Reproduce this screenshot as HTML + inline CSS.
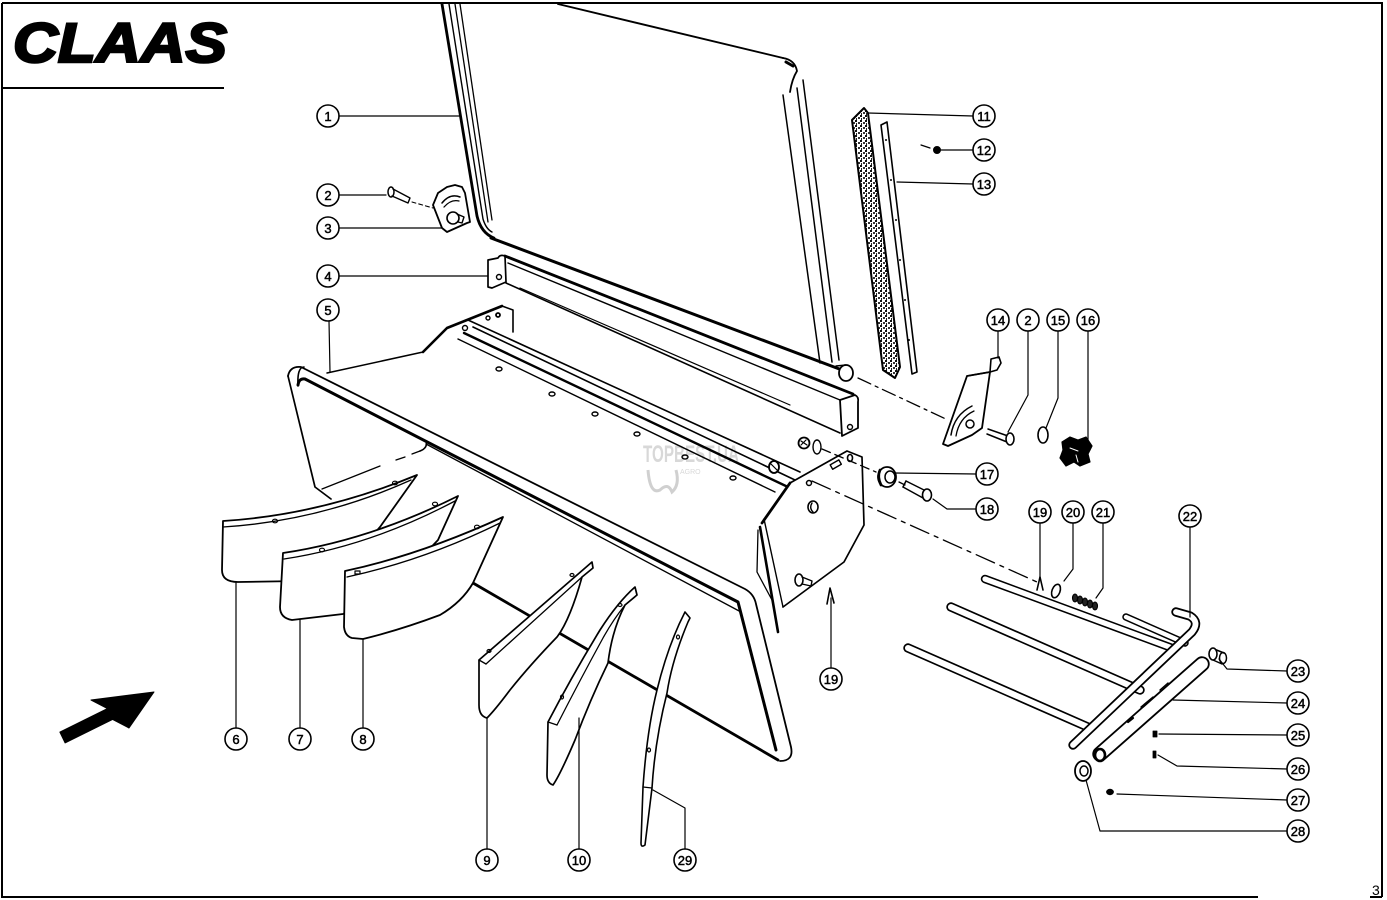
<!DOCTYPE html>
<html><head><meta charset="utf-8">
<style>
html,body{margin:0;padding:0;background:#fff;}
svg{display:block;}
text{font-family:"Liberation Sans",sans-serif;}
</style></head><body>
<svg xmlns="http://www.w3.org/2000/svg" width="1387" height="900" viewBox="0 0 1387 900">
<defs>
<pattern id="perf" width="5" height="5" patternUnits="userSpaceOnUse">
 <rect width="5" height="5" fill="#fff"/>
 <rect x="0" y="0" width="2" height="2" fill="#111"/>
 <rect x="3" y="2" width="2" height="2" fill="#333"/>
 <rect x="1" y="3" width="1" height="2" fill="#222"/>
</pattern>
</defs>
<rect width="1387" height="900" fill="#fff"/>

<!-- frame -->
<g fill="none" stroke="#000" stroke-width="2">
 <path d="M2,3 H1382 V897"/>
 <path d="M2,3 V897 H1258"/>
 <path d="M1370,897 H1382"/>
 <path d="M2,88 H224"/>
</g>

<!-- logo -->
<text x="13" y="62" font-size="56" font-weight="bold" font-style="italic" textLength="214" lengthAdjust="spacingAndGlyphs" fill="#000" stroke="#000" stroke-width="2.5">CLAAS</text>

<!-- watermark -->
<g fill="#cfcfcf" opacity="0.8">
 <text x="643" y="462" font-size="24" font-weight="bold" textLength="96" lengthAdjust="spacingAndGlyphs">TOPBEST.UA</text>
 <text x="680" y="474" font-size="7">AGRO</text>
</g>
<path d="M648,470 Q650,495 660,490 Q668,482 672,492 Q680,485 676,470" fill="none" stroke="#d0d0d0" stroke-width="3"/>

<g fill="none" stroke="#000" stroke-linecap="round" stroke-linejoin="round">

<!-- ===== Part 1 panel ===== -->
<path d="M442,4 L477,216 Q481,233 494,238" stroke-width="2.8"/>
<path d="M449,4 L483,219 Q486,229 492,232" stroke-width="1.4"/>
<path d="M455,4 L488,222" stroke-width="1.3"/>
<path d="M460,4 L492,220" stroke-width="1.3"/>
<path d="M558,4 L783,58" stroke-width="1.9"/>
<path d="M783,58 Q795,60 797,71 Q792,79 790,92" stroke-width="1.8"/>
<path d="M786,62 L793,66" stroke-width="3"/>
<path d="M783,95 L820,363" stroke-width="1.5"/>
<path d="M797,88 L832,362" stroke-width="1.5"/>
<path d="M803,80 L839,360" stroke-width="1.5"/>
<path d="M491,238 L842,370" stroke-width="3"/>
<ellipse cx="846" cy="373" rx="7" ry="8" fill="#fff" stroke-width="1.8"/>
<path d="M836,366 L846,365" stroke-width="1.4"/>

<!-- ===== Part 4 rail ===== -->
<path d="M488,260 L498,258 Q500,254 505,256 L506,282 L492,288 L488,287 Z" fill="#fff" stroke-width="1.7"/>
<circle cx="499" cy="277" r="2.5" stroke-width="1.4"/>
<path d="M505,256 L853,394" stroke-width="2.8"/>
<path d="M508,263 L840,400" stroke-width="1.4"/>
<path d="M506,283 L840,433" stroke-width="1.6"/>
<path d="M520,288 L790,405" stroke-width="1.2"/>
<path d="M840,400 L855,395 Q859,397 858,402 L858,428 L842,436 Z" fill="#fff" stroke-width="1.8"/>
<circle cx="850" cy="427" r="2.5" stroke-width="1.4"/>

<!-- ===== Part 3 bracket and bolt 2 ===== -->
<path d="M433,205 L438,193 L447,187 L455,185 L462,187 L465,193 L470,222 L467,223 L447,232 L442,228 Z" fill="#fff" stroke-width="1.8"/>
<path d="M442,203 Q450,193 460,197" stroke-width="1.5"/>
<path d="M444,207 Q451,199 459,201" stroke-width="1.3"/>
<circle cx="453" cy="218" r="6" fill="#fff" stroke-width="1.6"/>
<path d="M457,214 L464,217 L462,223 L458,222" stroke-width="1.4"/>
<ellipse cx="391" cy="192" rx="3" ry="5" fill="#fff" stroke-width="1.5"/>
<path d="M393,189 L410,198 M392,196 L408,203 M410,198 L408,203" stroke-width="1.4"/>
<path d="M412,202 L433,208" stroke-width="1.1" stroke-dasharray="4,3"/>

<!-- ===== Hopper part 5 ===== -->
<path d="M327,373 L423,352" stroke-width="1.5"/>
<path d="M423,352 L447,328 L502,306" stroke-width="2.6"/>
<path d="M502,306 L513,310 L513,332" stroke-width="1.6"/>
<circle cx="465" cy="328" r="2.5" stroke-width="1.4"/>
<circle cx="488" cy="318" r="2" stroke-width="1.4"/>
<circle cx="498" cy="315" r="2" stroke-width="1.8"/>
<path d="M468,320 L800,472" stroke-width="1.6"/>
<path d="M473,327 L795,480" stroke-width="1.6"/>
<path d="M464,333 L788,487" stroke-width="2.4"/>
<path d="M458,339 L775,492" stroke-width="1.4"/>
<ellipse cx="774" cy="467" rx="5" ry="6" fill="#fff" stroke-width="1.8"/>
<path d="M771,464 L777,470" stroke-width="1.2"/>
<g stroke-width="1.4">
<ellipse cx="499" cy="369" rx="3" ry="2"/>
<ellipse cx="552" cy="394" rx="3" ry="2"/>
<ellipse cx="595" cy="414" rx="3" ry="2"/>
<ellipse cx="637" cy="434" rx="3" ry="2"/>
<ellipse cx="685" cy="457" rx="3" ry="2"/>
<ellipse cx="733" cy="478" rx="3" ry="2"/>
</g>
<!-- right end plate -->
<path d="M762,523 L790,483 L847,451 L862,457 L864,525 L844,562 L783,607 L778,632 L760,575 Z" fill="#fff" stroke="none"/>
<path d="M790,483 L847,451 L862,457 L864,525 L844,562 L783,607" stroke-width="1.7"/>
<path d="M762,523 L790,483" stroke-width="2.8"/>
<path d="M760,527 L778,632" stroke-width="2.6"/>
<path d="M764,519 L783,607" stroke-width="1.4"/>
<path d="M758,530 L757,572 L772,600" stroke-width="1.3"/>
<rect x="831" y="462" width="10" height="5" transform="rotate(-30 836 465)" stroke-width="1.4"/>
<ellipse cx="850" cy="458" rx="2.5" ry="3.5" stroke-width="1.6"/>
<circle cx="809" cy="483" r="2.5" stroke-width="1.5"/>
<ellipse cx="813" cy="507" rx="5" ry="6" stroke-width="1.6"/>
<path d="M812,503 Q809,508 813,512" stroke-width="1.4"/>
<ellipse cx="799" cy="580" rx="4" ry="6" fill="#fff" stroke-width="1.6"/>
<path d="M802,577 L812,581 L811,586 L802,584" stroke-width="1.4"/>
<circle cx="804" cy="443" r="5.5" fill="#fff" stroke-width="1.8"/>
<path d="M801,441 L807,445 M801,445 L806,440" stroke-width="1.2"/>
<ellipse cx="817" cy="447" rx="4" ry="7" stroke-width="1.4"/>
<!-- front tube -->
<path d="M298,386 Q297,367 304,367" stroke-width="1.6"/>
<path d="M288,376 Q290,366 301,367 L745,589 Q754,594 756,604 L791,747 Q794,761 780,761" stroke-width="1.8"/>
<path d="M298,385 Q299,378 305,379 L738,602 L776,750" stroke-width="3"/>
<path d="M426,444 L741,612" stroke-width="1.3"/>
<!-- left plate -->
<path d="M288,376 L315,487 L331,499" stroke-width="1.7"/>
<path d="M322,489 L380,466" stroke-width="1.3"/>
<path d="M396,460 L405,457 M412,454 L420,451" stroke-width="1.3"/>
<path d="M420,451 Q428,448 426,441" stroke-width="1.6"/>
<path d="M473,583 L778,760" stroke-width="2.8"/>

<!-- ===== Flaps 6,7,8 ===== -->
<path d="M223,521 Q320,515 417,475 L380,527 L360,550 L300,581 L238,582 Q222,582 222,570 Z" fill="#fff" stroke-width="1.8"/>
<path d="M223,527 Q320,521 411,480" stroke-width="1.3"/>
<ellipse cx="275" cy="521" rx="2.5" ry="1.8" stroke-width="1.2"/>
<ellipse cx="395" cy="483" rx="2.5" ry="1.8" stroke-width="1.2"/>

<path d="M283,553 Q370,540 458,496 L438,540 L400,580 L343,614 L292,620 Q280,618 280,607 Z" fill="#fff" stroke-width="1.8"/>
<path d="M284,559 Q370,546 455,501" stroke-width="1.3"/>
<ellipse cx="322" cy="550" rx="2.5" ry="1.8" stroke-width="1.2"/>
<ellipse cx="435" cy="504" rx="2.5" ry="1.8" stroke-width="1.2"/>

<path d="M345,571 Q420,555 503,517 L473,583 Q462,602 440,615 Q400,630 363,639 L352,638 Q345,636 344,627 Z" fill="#fff" stroke-width="1.8"/>
<path d="M347,577 Q425,560 500,523" stroke-width="1.3"/>
<rect x="355" y="571" width="5" height="3" stroke-width="1.2"/>
<ellipse cx="477" cy="527" rx="2.5" ry="1.8" stroke-width="1.2"/>

<!-- ===== Fins 9,10,29 ===== -->
<path d="M479,660 L592,562 L593,568 L582,577 Q570,620 557,637 Q530,665 510,690 Q495,710 487,718 Q479,716 479,705 Z" fill="#fff" stroke-width="1.7"/>
<path d="M486,664 L582,577" stroke-width="1.3"/>
<path d="M479,660 L486,664" stroke-width="1.3"/>
<ellipse cx="489" cy="651" rx="2" ry="1.5" stroke-width="1.2"/>
<ellipse cx="572" cy="575" rx="2" ry="1.5" stroke-width="1.2"/>

<path d="M548,722 Q572,676 600,630 Q618,602 635,587 L637,595 L625,605 Q612,630 608,663 Q590,700 575,740 Q560,775 553,785 Q547,783 547,775 Z" fill="#fff" stroke-width="1.7"/>
<path d="M557,725 Q580,680 603,638 Q613,620 625,605" stroke-width="1.3"/>
<path d="M548,722 L557,725" stroke-width="1.3"/>
<ellipse cx="562" cy="697" rx="1.5" ry="2" stroke-width="1.2"/>
<ellipse cx="620" cy="605" rx="2" ry="1.5" stroke-width="1.2"/>

<path d="M685,612 L690,618 L688,622 Q672,660 667,693 Q655,740 652,788 L645,845 Q641,848 641,843 L643,787 Q647,730 657,690 Q668,645 685,612 Z" fill="#fff" stroke-width="1.6"/>
<path d="M643,787 L652,788" stroke-width="1.3"/>
<ellipse cx="678" cy="637" rx="1.5" ry="2" stroke-width="1.2"/>
<ellipse cx="649" cy="750" rx="1.5" ry="2" stroke-width="1.2"/>

<!-- ===== Parts 11,12,13 ===== -->
<path d="M864,108 L852,120 L883,370 L895,378 L900,367 L868,113 Z" fill="url(#perf)" stroke-width="2"/>
<path d="M881,125 L887,122 L917,372 L912,374 Z" fill="#fff" stroke-width="1.6"/>
<g fill="#000" stroke="none">
<circle cx="886" cy="140" r="1"/><circle cx="891" cy="180" r="1"/><circle cx="896" cy="220" r="1"/><circle cx="900" cy="260" r="1"/><circle cx="905" cy="300" r="1"/><circle cx="909" cy="340" r="1"/>
</g>
<path d="M921,145 L930,148" stroke-width="1.2"/>
<circle cx="937" cy="150" r="3.5" fill="#000" stroke-width="1"/>

<!-- ===== Part 14, bolt 2, 15, 16 ===== -->
<path d="M967,376 L943,444 L948,446 L972,435 L982,428 L990,372 Z" fill="#fff" stroke-width="1.8"/>
<path d="M967,376 L990,372 L991,359 L999,357 L1001,363 L997,370 L990,372" fill="#fff" stroke-width="1.6"/>
<path d="M951,435 Q954,415 972,406" stroke-width="1.5"/>
<path d="M956,436 Q959,418 974,411" stroke-width="1.3"/>
<circle cx="970" cy="424" r="4" stroke-width="1.5"/>
<path d="M988,429 L1008,436 M987,434 L1007,442" stroke-width="1.5"/>
<ellipse cx="1010" cy="439" rx="4" ry="6" fill="#fff" stroke-width="1.6"/>
<ellipse cx="1043" cy="435" rx="5" ry="8" fill="#fff" stroke-width="1.6"/>
<path d="M1062,442 L1070,437 L1078,440 L1086,437 L1092,446 L1088,454 L1090,462 L1080,466 L1074,462 L1066,466 L1060,458 L1063,450 Z" fill="#000" stroke-width="1.2"/>
<path d="M1070,448 L1078,451 M1076,455 L1078,462" stroke="#fff" stroke-width="1"/>

<!-- ===== 17, 18 ===== -->
<ellipse cx="887" cy="477" rx="9" ry="10" fill="#fff" stroke-width="1.8"/>
<ellipse cx="890" cy="477" rx="5" ry="6" stroke-width="1.5"/>
<path d="M880,470 Q877,477 881,485" stroke-width="2.7"/>
<path d="M906,481 L926,491 M903,487 L923,498" stroke-width="1.5"/>
<path d="M906,481 L903,487" stroke-width="1.5"/>
<ellipse cx="927" cy="495" rx="4.5" ry="6" fill="#fff" stroke-width="1.6"/>

<!-- dash lines -->
<path d="M858,378 L948,420" stroke-width="1.3" stroke-dasharray="14,5,3,5"/>
<path d="M822,449 L876,472 M899,482 L905,485" stroke-width="1.3" stroke-dasharray="9,5"/>
<path d="M812,481 L1037,582" stroke-width="1.3" stroke-dasharray="20,6,4,6"/>

<path d="M827,604 L830,588 L834,603" stroke-width="1.6"/>

<!-- ===== right assembly ===== -->
<path d="M985,579 L1172,648" stroke="#000" stroke-width="8.4"/>
<path d="M985,579 L1172,648" stroke="#fff" stroke-width="5.2"/>
<path d="M1126,617 L1185,643" stroke="#000" stroke-width="7.4"/>
<path d="M1126,617 L1185,643" stroke="#fff" stroke-width="4.4"/>
<path d="M951,607 L1140,690" stroke="#000" stroke-width="9.4"/>
<path d="M951,607 L1140,690" stroke="#fff" stroke-width="6"/>
<path d="M908,648 L1090,728" stroke="#000" stroke-width="9.4"/>
<path d="M908,648 L1090,728" stroke="#fff" stroke-width="6"/>
<path d="M1073,745 L1192,632 Q1200,622 1190,616 L1176,612" stroke="#000" stroke-width="9.4"/>
<path d="M1073,745 L1192,632 Q1200,622 1190,616 L1176,612" stroke="#fff" stroke-width="5.8"/>
<path d="M1100,754 L1202,664" stroke="#000" stroke-width="15.4"/>
<path d="M1100,754 L1202,664" stroke="#fff" stroke-width="11.8"/>
<ellipse cx="1100" cy="755" rx="5" ry="6" stroke-width="2.6"/>
<path d="M1141,707 L1153,697 M1160,690 L1168,683" stroke-width="1.4"/>
<path d="M1128,722 L1133,718" stroke-width="2.2"/>
<path d="M1037,590 L1040,577 L1043,590" stroke-width="1.6"/>
<ellipse cx="1056" cy="591" rx="4" ry="7" transform="rotate(20 1056 591)" stroke-width="1.6"/>
<g fill="#222" stroke-width="1.1">
<ellipse cx="1075" cy="598" rx="2.5" ry="4"/><ellipse cx="1080" cy="600" rx="2.5" ry="4"/><ellipse cx="1085" cy="602" rx="2.5" ry="4"/><ellipse cx="1090" cy="604" rx="2.5" ry="4"/><ellipse cx="1095" cy="606" rx="2.5" ry="4"/>
</g>
<path d="M1214,649 L1224,653 M1213,660 L1222,664" stroke-width="1.5"/>
<ellipse cx="1223" cy="658" rx="3.5" ry="5.5" stroke-width="1.5"/>
<ellipse cx="1213" cy="654" rx="4" ry="6" fill="#fff" stroke-width="1.6"/>
<rect x="1153" y="731" width="4" height="6" fill="#000" stroke-width="0.8"/>
<rect x="1153" y="751" width="3" height="7" fill="#000" stroke-width="0.8"/>
<ellipse cx="1110" cy="792" rx="3.5" ry="2.8" fill="#000" stroke-width="0.8"/>
<ellipse cx="1083" cy="771" rx="8" ry="10" fill="#fff" stroke-width="1.8"/>
<ellipse cx="1084" cy="771" rx="4" ry="5" stroke-width="1.5"/>

<!-- ===== Arrow ===== -->
<path d="M59.9,732.1 L107.4,708.6 L91,700 L154,692 L129,728 L112.6,719.4 L65.1,742.9 Z" fill="#000" stroke-width="1"/>

<!-- ===== leaders ===== -->
<g stroke-width="1.2">
<path d="M339,116 H459"/>
<path d="M339,195 H386"/>
<path d="M339,228 H441"/>
<path d="M339,276 H488"/>
<path d="M329,321 L330,372"/>
<path d="M236,728 V582"/>
<path d="M300,728 V620"/>
<path d="M363,728 V639"/>
<path d="M487,849 V718"/>
<path d="M579,849 V718"/>
<path d="M685,849 V808 L653,790"/>
<path d="M973,116 L868,113"/>
<path d="M973,150 L940,150"/>
<path d="M973,184 L897,182"/>
<path d="M998,331 V358"/>
<path d="M1028,331 V395 L1008,432"/>
<path d="M1058,331 V398 L1046,428"/>
<path d="M1088,331 V440"/>
<path d="M976,474 L895,473"/>
<path d="M976,509 L947,509 L933,499"/>
<path d="M831,668 V598"/>
<path d="M1040,523 V578"/>
<path d="M1073,523 V569 L1064,581"/>
<path d="M1103,523 V588 L1096,598"/>
<path d="M1190,527 V617"/>
<path d="M1287,671 L1227,669 L1219,659"/>
<path d="M1287,703 L1173,700"/>
<path d="M1287,735 L1159,734"/>
<path d="M1287,769 L1177,766 L1158,755"/>
<path d="M1287,800 L1117,794"/>
<path d="M1287,831 L1100,831 L1086,780"/>
</g>

<!-- callout circles -->
<g fill="#fff" stroke-width="1.6">
<circle cx="328" cy="116" r="11"/>
<circle cx="328" cy="195" r="11"/>
<circle cx="328" cy="228" r="11"/>
<circle cx="328" cy="276" r="11"/>
<circle cx="328" cy="310" r="11"/>
<circle cx="236" cy="739" r="11"/>
<circle cx="300" cy="739" r="11"/>
<circle cx="363" cy="739" r="11"/>
<circle cx="487" cy="860" r="11"/>
<circle cx="579" cy="860" r="11"/>
<circle cx="685" cy="860" r="11"/>
<circle cx="984" cy="116" r="11"/>
<circle cx="984" cy="150" r="11"/>
<circle cx="984" cy="184" r="11"/>
<circle cx="998" cy="320" r="11"/>
<circle cx="1028" cy="320" r="11"/>
<circle cx="1058" cy="320" r="11"/>
<circle cx="1088" cy="320" r="11"/>
<circle cx="987" cy="474" r="11"/>
<circle cx="987" cy="509" r="11"/>
<circle cx="831" cy="679" r="11"/>
<circle cx="1040" cy="512" r="11"/>
<circle cx="1073" cy="512" r="11"/>
<circle cx="1103" cy="512" r="11"/>
<circle cx="1190" cy="516" r="11"/>
<circle cx="1298" cy="671" r="11"/>
<circle cx="1298" cy="703" r="11"/>
<circle cx="1298" cy="735" r="11"/>
<circle cx="1298" cy="769" r="11"/>
<circle cx="1298" cy="800" r="11"/>
<circle cx="1298" cy="831" r="11"/>
</g>
</g>

<g font-size="13" text-anchor="middle" fill="#000" stroke="#000" stroke-width="0.5">
<text x="328" y="121">1</text>
<text x="328" y="200">2</text>
<text x="328" y="233">3</text>
<text x="328" y="281">4</text>
<text x="328" y="315">5</text>
<text x="236" y="744">6</text>
<text x="300" y="744">7</text>
<text x="363" y="744">8</text>
<text x="487" y="865">9</text>
<text x="579" y="865">10</text>
<text x="685" y="865">29</text>
<text x="984" y="121">11</text>
<text x="984" y="155">12</text>
<text x="984" y="189">13</text>
<text x="998" y="325">14</text>
<text x="1028" y="325">2</text>
<text x="1058" y="325">15</text>
<text x="1088" y="325">16</text>
<text x="987" y="479">17</text>
<text x="987" y="514">18</text>
<text x="831" y="684">19</text>
<text x="1040" y="517">19</text>
<text x="1073" y="517">20</text>
<text x="1103" y="517">21</text>
<text x="1190" y="521">22</text>
<text x="1298" y="676">23</text>
<text x="1298" y="708">24</text>
<text x="1298" y="740">25</text>
<text x="1298" y="774">26</text>
<text x="1298" y="805">27</text>
<text x="1298" y="836">28</text>
</g>
<text x="1372" y="895" font-size="14" fill="#000">3</text>
</svg>
</body></html>
